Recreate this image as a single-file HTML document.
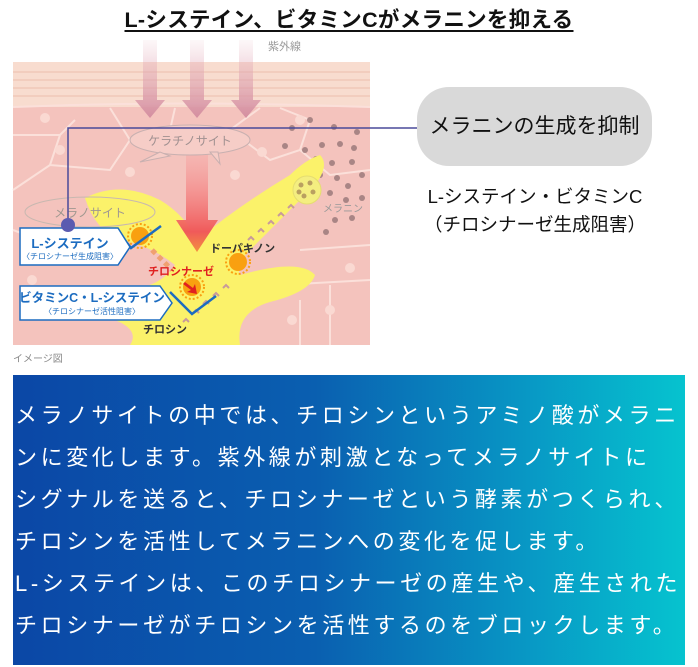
<!DOCTYPE html>
<html><head><meta charset="utf-8"><style>
html,body{margin:0;padding:0;background:#fff;width:698px;height:667px;overflow:hidden;position:relative;font-family:"Liberation Sans","Noto Sans CJK JP",sans-serif}
.title{position:absolute;left:0;width:698px;top:3px;text-align:center;font-weight:bold;font-size:21.5px;text-decoration:underline;text-underline-offset:3px;color:#111;letter-spacing:0.3px}
.pill{position:absolute;left:417px;top:87px;width:235px;height:79px;border-radius:32px;background:#d9d9d9;font-size:21px;line-height:79px;text-align:center;color:#111}
.sub{position:absolute;left:405px;width:260px;top:183px;text-align:center;font-size:18.5px;line-height:28px;color:#111}
.blue{position:absolute;left:13px;top:375px;width:672px;height:290px;background:linear-gradient(90deg,#0b47a6 0%,#0a5fb0 45%,#0895c4 75%,#06c3cf 100%);color:#fff}
.blue p{margin:0;position:absolute;left:2px;top:20px;font-size:22px;line-height:42px;letter-spacing:3.6px;white-space:nowrap}
</style></head><body>
<div class="title">L-システイン、ビタミンCがメラニンを抑える</div>
<svg style="position:absolute;left:0;top:0" width="698" height="370">
<defs>
<linearGradient id="uv" x1="0" y1="0" x2="0" y2="1"><stop offset="0" stop-color="#e7b3c0" stop-opacity="0.1"/><stop offset="1" stop-color="#d48ea0"/></linearGradient>
<linearGradient id="red" x1="0" y1="0" x2="0" y2="1"><stop offset="0" stop-color="#f7a0a0" stop-opacity="0.3"/><stop offset="0.8" stop-color="#f05a5a"/><stop offset="1" stop-color="#f39040"/></linearGradient>
</defs>
<rect x="13" y="62" width="357" height="283" fill="#f4c3bd"/>
<rect x="13" y="62" width="357" height="45" fill="#f8dccf"/>
<g stroke="#f0c8b8" stroke-width="1.5" fill="none">
<path d="M13 72 H370 M13 80 H370 M13 88 H370 M13 96 H370"/>
</g>
<g stroke="#fbe0da" stroke-width="2" fill="none">
<path d="M13 107 Q190 100 370 107"/>
<path d="M13 135 H60 L75 120 M60 135 L50 165 M13 190 L50 165 L110 170 L130 140 L170 130 M130 140 L110 108 M170 130 L175 108"/>
<path d="M230 130 L260 108 M230 130 L270 160 L300 150 L310 120 L280 108 M300 150 L330 175 L370 170"/>
<path d="M13 230 L40 240 M300 250 L370 245 M280 285 L370 280 M300 300 V345 M330 285 V345"/>
</g>
<g fill="#fad9d2"><circle cx="45" cy="118" r="5"/><circle cx="60" cy="150" r="5"/><circle cx="130" cy="172" r="5"/><circle cx="262" cy="152" r="5"/><circle cx="235" cy="175" r="5"/><circle cx="350" cy="268" r="5"/><circle cx="292" cy="320" r="5"/><circle cx="330" cy="310" r="5"/><circle cx="300" cy="120" r="5"/><circle cx="32" cy="280" r="5"/></g>
<g fill="#a98585"><circle cx="292" cy="128" r="3"/><circle cx="310" cy="120" r="3"/><circle cx="334" cy="127" r="3"/><circle cx="357" cy="132" r="3"/><circle cx="285" cy="146" r="3"/><circle cx="305" cy="150" r="3"/><circle cx="322" cy="145" r="3"/><circle cx="340" cy="144" r="3"/><circle cx="354" cy="148" r="3"/><circle cx="316" cy="159" r="3"/><circle cx="332" cy="163" r="3"/><circle cx="352" cy="162" r="3"/><circle cx="320" cy="175" r="3"/><circle cx="337" cy="178" r="3"/><circle cx="362" cy="175" r="3"/><circle cx="348" cy="186" r="3"/><circle cx="362" cy="198" r="3"/><circle cx="330" cy="193" r="3"/><circle cx="346" cy="200" r="3"/><circle cx="335" cy="220" r="3"/><circle cx="352" cy="218" r="3"/><circle cx="326" cy="232" r="3"/></g>
<path d="M85 198 Q120 180 160 200 Q185 215 197 240 Q240 205 290 175 Q305 160 320 155 Q330 165 315 185 Q285 215 250 250 Q235 265 240 275 Q300 258 315 275 Q310 292 270 302 Q235 312 240 345 L130 345 Q140 330 115 320 Q105 300 125 290 Q160 288 175 265 Q150 245 120 240 Q95 230 85 198 Z" fill="#fbf26a"/>
<circle cx="307" cy="190" r="14" fill="#f4ee80" stroke="#e5dd70"/>
<g fill="#b9a060"><circle cx="301" cy="185" r="2.5"/><circle cx="310" cy="183" r="2.5"/><circle cx="313" cy="192" r="2.5"/><circle cx="304" cy="196" r="2.5"/><circle cx="299" cy="192" r="2.5"/></g>
<g fill="url(#uv)"><path d="M143 40 h14 v60 h8 l-15 18 l-15 -18 h8z"/><path d="M190 40 h14 v60 h8 l-15 18 l-15 -18 h8z"/><path d="M239 40 h14 v60 h8 l-15 18 l-15 -18 h8z"/></g>
<path d="M186 150 h22 v70 h10 l-21 32 l-21 -32 h10z" fill="url(#red)"/>
<ellipse cx="190" cy="140" rx="60" ry="15" fill="#f6cdc7" stroke="#c8b0b0"/>
<path d="M160 152 l-20 10 l30 -6z M210 152 l10 12 l-2 -12z" fill="#f6cdc7" stroke="#c8b0b0"/>
<text x="190" y="145" font-size="12" fill="#a09090" text-anchor="middle">ケラチノサイト</text>
<ellipse cx="90" cy="212" rx="65" ry="15" fill="none" stroke="#c8b8b0"/>
<text x="90" y="217" font-size="12" fill="#a09890" text-anchor="middle">メラノサイト</text>
<text x="268" y="50" font-size="11" fill="#999">紫外線</text>
<text x="323" y="212" font-size="10" fill="#999">メラニン</text>
<g fill="none" stroke="#c89a9a" stroke-width="2"><path d="M183 322 l3 -3 l3 3 M193 313 l3 -3 l3 3 M203 304 l3 -3 l3 3 M213 296 l3 -3 l3 3 M223 288 l3 -3 l3 3 M248 240 l3 -3 l3 3 M258 232 l3 -3 l3 3 M268 224 l3 -3 l3 3 M278 216 l3 -3 l3 3 M288 208 l3 -3 l3 3"/></g>
<path d="M152 250 l20 20" stroke="#f0a070" stroke-width="5" stroke-dasharray="5 4"/>
<g fill="#f9a010"><circle cx="140" cy="236" r="9"/><circle cx="238" cy="262" r="9"/><circle cx="192" cy="287" r="9"/></g>
<g fill="none" stroke="#f9a010" stroke-width="2" stroke-dasharray="2 2"><circle cx="140" cy="236" r="12"/><circle cx="238" cy="262" r="12"/><circle cx="192" cy="287" r="12"/></g>
<path d="M185 282 l8 6 l2 -4 l2 10 l-10 -2 l4 -2 l-8 -6z" fill="#e02020"/>
<g fill="none" stroke="#1c6cc0" stroke-width="2.5"><path d="M115 228 l16 20 l30 -22"/><path d="M170 292 l22 22 l24 -18"/></g>
<path d="M20 228 H118 L130 247 L118 265 H20 Z" fill="#fff" stroke="#1c6cc0" stroke-width="1.5"/>
<text x="70" y="248" font-size="13" font-weight="bold" fill="#1c6cc0" text-anchor="middle">L-システイン</text>
<text x="70" y="259" font-size="8" fill="#1c6cc0" text-anchor="middle">〈チロシナーゼ生成阻害〉</text>
<path d="M20 286 H160 L172 303 L160 320 H20 Z" fill="#fff" stroke="#1c6cc0" stroke-width="1.5"/>
<text x="92" y="302" font-size="12.5" font-weight="bold" fill="#1c6cc0" text-anchor="middle">ビタミンC・L-システイン</text>
<text x="92" y="314" font-size="8" fill="#1c6cc0" text-anchor="middle">〈チロシナーゼ活性阻害〉</text>
<text x="210" y="252" font-size="11" font-weight="bold" fill="#333">ドーパキノン</text>
<text x="148" y="275" font-size="11" font-weight="bold" fill="#e02020">チロシナーゼ</text>
<text x="143" y="333" font-size="11" font-weight="bold" fill="#333">チロシン</text>
<text x="13" y="362" font-size="10" fill="#888">イメージ図</text>
<path d="M68 224 V128 H417" fill="none" stroke="#4a4a9a" stroke-width="1.5"/>
<circle cx="68" cy="225" r="7" fill="#5b5bb0"/>
</svg>
<div class="pill">メラニンの生成を抑制</div>
<div class="sub">L-システイン・ビタミンC<br>（チロシナーゼ生成阻害）</div>
<div class="blue"><p>メラノサイトの中では、チロシンというアミノ酸がメラニ<br>ンに変化します。紫外線が刺激となってメラノサイトに<br>シグナルを送ると、チロシナーゼという酵素がつくられ、<br>チロシンを活性してメラニンへの変化を促します。<br>L-システインは、このチロシナーゼの産生や、産生された<br>チロシナーゼがチロシンを活性するのをブロックします。</p></div>
</body></html>
